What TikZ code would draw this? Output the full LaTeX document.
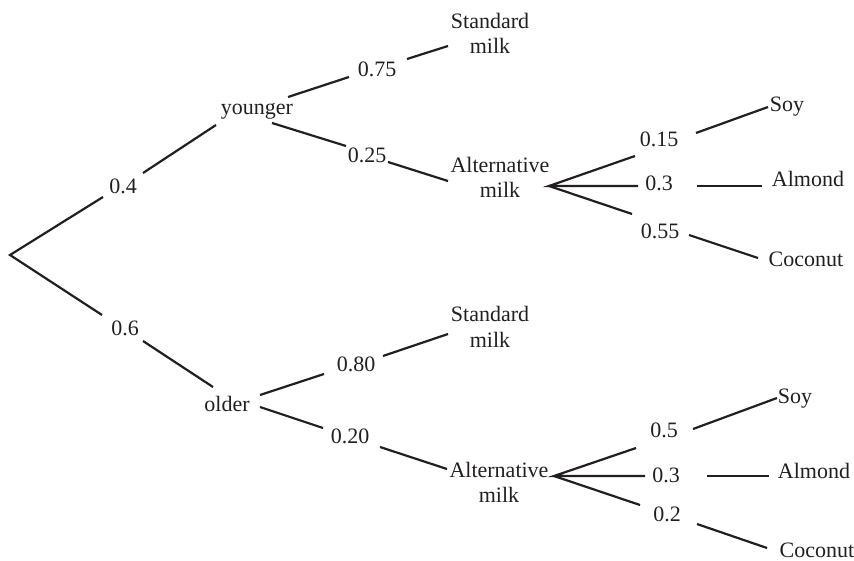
\documentclass[tikz,border=0pt]{standalone}
\usepackage{fontspec}
\setmainfont{Liberation Serif}
\definecolor{ink}{RGB}{35,31,32}
\begin{document}
\begin{tikzpicture}[x=1pt,y=-1pt,
  lbl/.style={anchor=base,inner sep=0pt,text=ink,font=\fontsize{22}{25}\selectfont},
  br/.style={line width=2.2pt,draw=ink}]
\useasboundingbox (0,0) rectangle (854,561);
% ---- text nodes ----
\node[lbl] (p04) at (123,194) {0.4};
\node[lbl] (p06) at (125,335) {0.6};
\node[lbl] (young) at (257,115) {younger};
\node[lbl] (old) at (227,411) {older};
\node[lbl] (p075) at (377,77) {0.75};
\node[lbl] (p025) at (367,163) {0.25};
\node[lbl] (p080) at (356,371) {0.80};
\node[lbl] (p020) at (350,443) {0.20};
\node[lbl] (stdA) at (490,29) {\begin{tabular}[t]{@{}c@{}}Standard\\milk\end{tabular}};
\node[lbl] (altA) at (500,173) {\begin{tabular}[t]{@{}c@{}}Alternative\\milk\end{tabular}};
\node[lbl] (stdB) at (490,322) {\begin{tabular}[t]{@{}c@{}}Standard\\milk\end{tabular}};
\node[lbl] (altB) at (499,477) {\begin{tabular}[t]{@{}c@{}}Alternative\\milk\end{tabular}};
\node[lbl] (p015) at (659,147) {0.15};
\node[lbl] (p03a) at (659,191) {0.3};
\node[lbl] (p055) at (660,239) {0.55};
\node[lbl] (p05) at (664,437) {0.5};
\node[lbl] (p03b) at (666,482) {0.3};
\node[lbl] (p02) at (667,521) {0.2};
\node[lbl] (soyA) at (787,112) {Soy};
\node[lbl] (almA) at (808,187) {Almond};
\node[lbl] (cocA) at (806,267) {Coconut};
\node[lbl] (soyB) at (795,403) {Soy};
\node[lbl] (almB) at (814,478) {Almond};
\node[lbl] (cocB) at (817,557) {Coconut};
% ---- connector end points ----
\coordinate (root) at (10,255);
\coordinate (a1) at (103,197);  \coordinate (a2) at (143,173);  \coordinate (a3) at (216,125);
\coordinate (b1) at (288,97);   \coordinate (b2) at (349,77);   \coordinate (b3) at (407,59);  \coordinate (b4) at (448,46);
\coordinate (c1) at (272,123);  \coordinate (c2) at (346,146);  \coordinate (c3) at (388,162); \coordinate (c4) at (448,181);
\coordinate (fa) at (549,186);
\coordinate (d1) at (635,156);  \coordinate (d2) at (696,133);  \coordinate (d3) at (768,107);
\coordinate (e1) at (638,186);  \coordinate (e2) at (697,186);  \coordinate (e3) at (762,186);
\coordinate (f1) at (632,214);  \coordinate (f2) at (689,235);  \coordinate (f3) at (758,258);
\coordinate (g1) at (102,315);  \coordinate (g2) at (143,341);  \coordinate (g3) at (213,387);
\coordinate (h1) at (260,395);  \coordinate (h2) at (324,374);  \coordinate (h3) at (383,356); \coordinate (h4) at (448,334);
\coordinate (i1) at (260,407);  \coordinate (i2) at (323,428);  \coordinate (i3) at (380,447); \coordinate (i4) at (447,469);
\coordinate (fb) at (554,476);
\coordinate (j1) at (636,448);  \coordinate (j2) at (693,429);  \coordinate (j3) at (777,398);
\coordinate (k1) at (645,476);  \coordinate (k2) at (707,476);  \coordinate (k3) at (769,476);
\coordinate (l1) at (640,505);  \coordinate (l2) at (697,524);  \coordinate (l3) at (767,548);
% ---- connectors ----
\draw[br] (a1) -- (root) -- (g1);
\draw[br] (a2) -- (a3);
\draw[br] (b1) -- (b2);  \draw[br] (b3) -- (b4);
\draw[br] (c1) -- (c2);  \draw[br] (c3) -- (c4);
\draw[br] (d1) -- (fa) -- (e1);  \draw[br] (fa) -- (f1);
\draw[br] (d2) -- (d3);  \draw[br] (e2) -- (e3);  \draw[br] (f2) -- (f3);
\draw[br] (g2) -- (g3);
\draw[br] (h1) -- (h2);  \draw[br] (h3) -- (h4);
\draw[br] (i1) -- (i2);  \draw[br] (i3) -- (i4);
\draw[br] (j1) -- (fb) -- (k1);  \draw[br] (fb) -- (l1);
\draw[br] (j2) -- (j3);  \draw[br] (k2) -- (k3);  \draw[br] (l2) -- (l3);
\end{tikzpicture}
\end{document}
